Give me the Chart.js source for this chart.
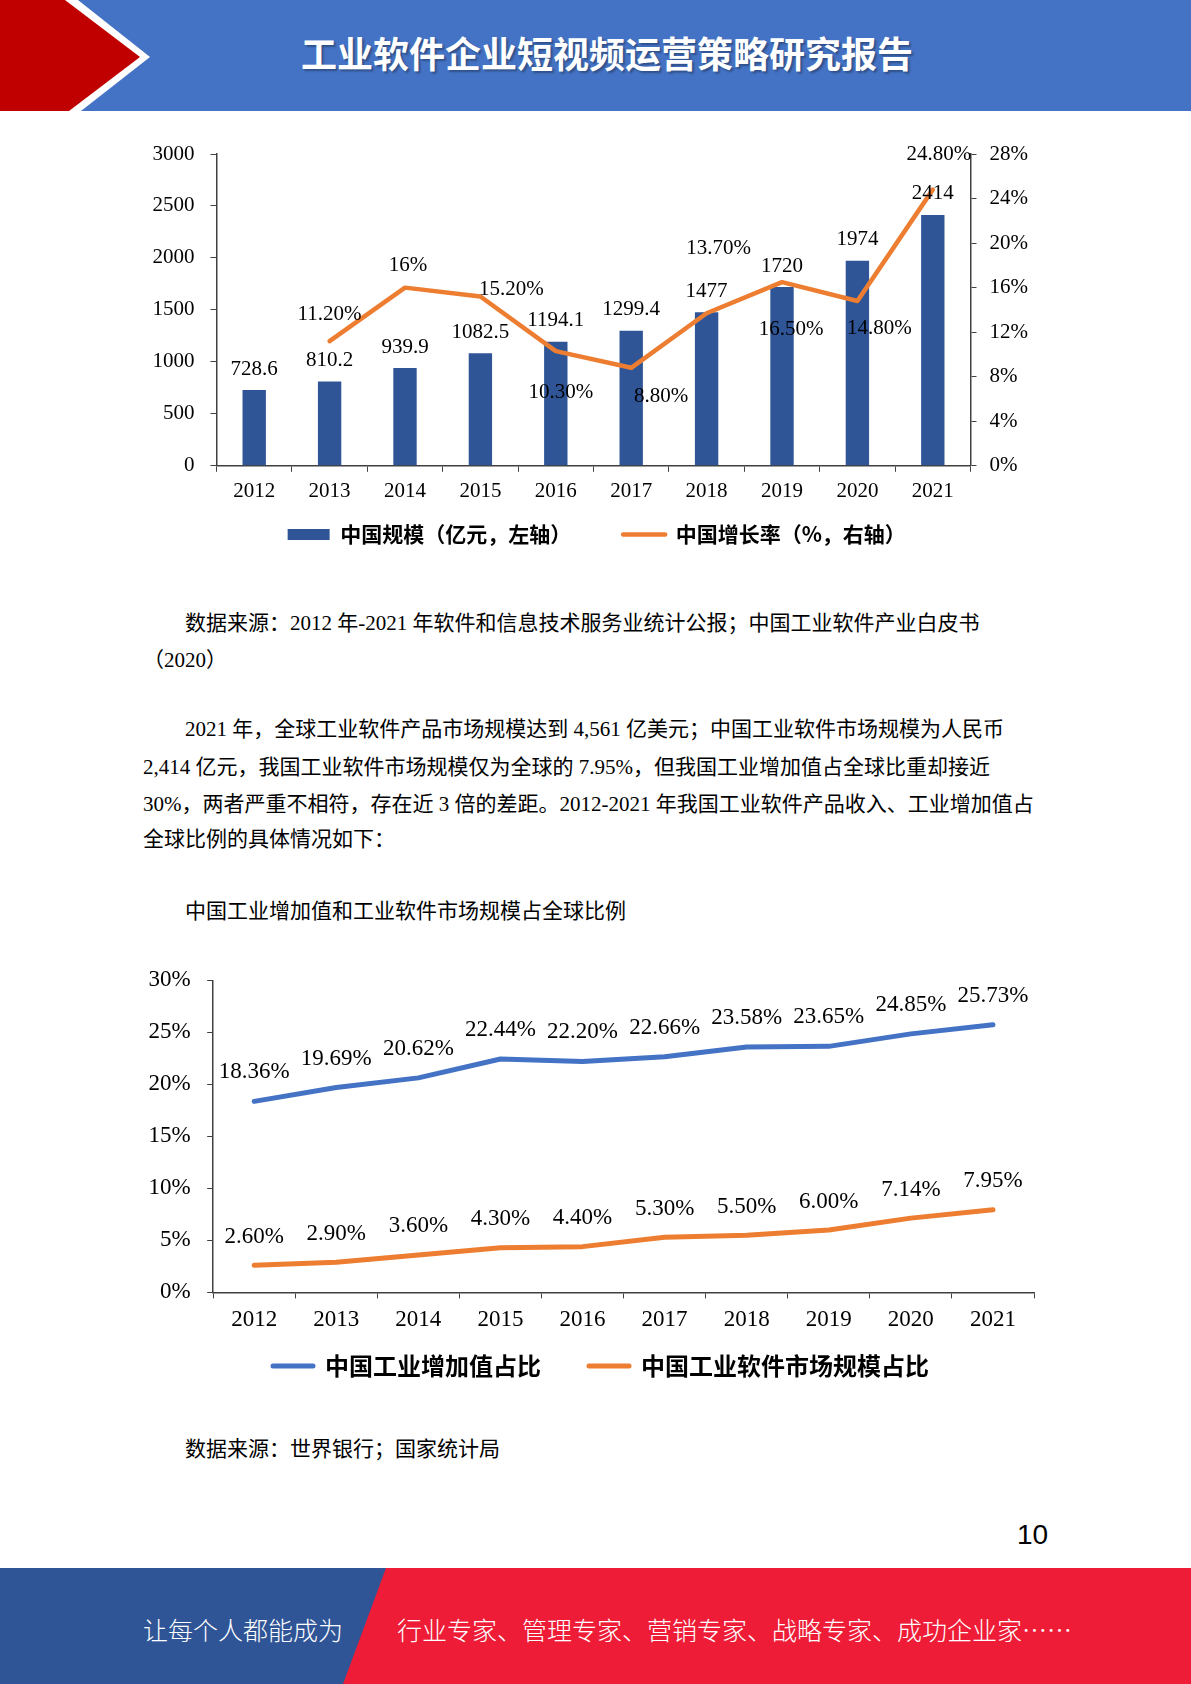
<!DOCTYPE html>
<html>
<head>
<meta charset="utf-8">
<script src="https://cdn.jsdelivr.net/npm/chart.js@4/dist/chart.umd.min.js"></script>
<style>
  html, body { margin: 0; padding: 0; background: #fff; }
  #page { position: relative; width: 1191px; height: 1684px; overflow: hidden; background: #fff; }
  .abs { position: absolute; }
  .title { left: 301px; top: 32px; font: bold 36px "Noto Sans CJK SC", sans-serif; line-height: 40px; color: #fff;
           white-space: nowrap; text-shadow: 2px 2px 2px rgba(0,0,0,0.3); }
  .txt { font-family: "Liberation Serif", "Noto Sans CJK SC", serif; font-size: 21px; line-height: 30px; color: #000; white-space: nowrap; }
  .foot { font-family: "Noto Sans CJK SC", sans-serif; font-weight: 300; font-size: 25px; line-height: 30px; color: #fff; white-space: nowrap; }
  .pageno { left: 1017px; top: 1518px; font: 28px "Liberation Sans", sans-serif; line-height: 34px; color: #000; }
</style>
</head>
<body>
<div id="page">
  <svg class="abs" style="left:0;top:0" width="1191" height="112">
    <rect x="0" y="0" width="1191" height="111" fill="#4472C4"/>
    <polygon points="0,0 78,0 150,57 81,111 0,111" fill="#ffffff"/>
    <polygon points="0,0 65,0 140,57 69,111 0,111" fill="#C00000"/>
  </svg>
  <div class="abs title">工业软件企业短视频运营策略研究报告</div>

  <div class="abs" style="left:120px;top:125px;width:950px;height:478px;"><canvas id="chart1"></canvas></div>

  <div class="abs txt" style="left:185px;top:608px;">数据来源：2012 年-2021 年软件和信息技术服务业统计公报；中国工业软件产业白皮书</div>
  <div class="abs txt" style="left:143px;top:645px;">（2020）</div>
  <div class="abs txt" style="left:185px;top:714px;">2021 年，全球工业软件产品市场规模达到 4,561 亿美元；中国工业软件市场规模为人民币</div>
  <div class="abs txt" style="left:143px;top:752px;">2,414 亿元，我国工业软件市场规模仅为全球的 7.95%，但我国工业增加值占全球比重却接近</div>
  <div class="abs txt" style="left:143px;top:789px;">30%，两者严重不相符，存在近 3 倍的差距。2012-2021 年我国工业软件产品收入、工业增加值占</div>
  <div class="abs txt" style="left:143px;top:824px;">全球比例的具体情况如下：</div>
  <div class="abs txt" style="left:185px;top:896px;">中国工业增加值和工业软件市场规模占全球比例</div>

  <div class="abs" style="left:120px;top:950px;width:940px;height:480px;"><canvas id="chart2"></canvas></div>

  <div class="abs txt" style="left:185px;top:1434px;">数据来源：世界银行；国家统计局</div>
  <div class="abs pageno">10</div>

  <svg class="abs" style="left:0;top:1568px" width="1191" height="116">
    <rect x="0" y="0" width="1191" height="116" fill="#EE1C37"/>
    <polygon points="0,0 386,0 343,116 0,116" fill="#2F5597"/>
  </svg>
  <div class="abs foot" style="left:143px;top:1614px;">让每个人都能成为</div>
  <div class="abs foot" style="left:397px;top:1614px;">行业专家、管理专家、营销专家、战略专家、成功企业家……</div>
</div>

<script>
// chart 1: market size (bars) and growth rate (line)
const years = ['2012', '2013', '2014', '2015', '2016', '2017', '2018', '2019', '2020', '2021'];
const marketSize = [728.6, 810.2, 939.9, 1082.5, 1194.1, 1299.4, 1477, 1720, 1974, 2414];
const growthRate = [null, 11.2, 16, 15.2, 10.3, 8.8, 13.7, 16.5, 14.8, 24.8];
const sizeTicks = [0, 500, 1000, 1500, 2000, 2500, 3000];
const rateTicks = [0, 4, 8, 12, 16, 20, 24, 28];

// chart 2: share of world
const valueAddedShare = [18.36, 19.69, 20.62, 22.44, 22.20, 22.66, 23.58, 23.65, 24.85, 25.73];
const softwareShare = [2.60, 2.90, 3.60, 4.30, 4.40, 5.30, 5.50, 6.00, 7.14, 7.95];
const shareTicks = [0, 5, 10, 15, 20, 25, 30];

// label placement for the growth line (dx, dy from the point)
const rateLabelOffsets = [null, [0, -27], [3, -22], [31, -7], [5, 41], [30, 29], [12, -65], [9, 47], [22, 27], [6, -35]];

const serif = "'Liberation Serif', 'Times New Roman', serif";
const cjkBold = "'Noto Sans CJK SC', sans-serif";
const axisColor = '#404040';

const valueLabels = {
    id: 'valueLabels',
    afterDatasetsDraw(chart, args, opts) {
        const ctx = chart.ctx;
        opts.sets.forEach((set, i) => {
            const ds = chart.data.datasets[i];
            const meta = chart.getDatasetMeta(i);
            ctx.save();
            ctx.font = opts.size + 'px ' + serif;
            ctx.fillStyle = '#000';
            ctx.textAlign = 'center';
            ctx.textBaseline = 'middle';
            meta.data.forEach((el, j) => {
                const v = ds.data[j];
                if (v === null || v === undefined) return;
                const off = set.offsets ? set.offsets[j] : set.offset;
                ctx.fillText(set.format(v), el.x + off[0], el.y + off[1]);
            });
            ctx.restore();
        });
    }
};

// legend padding doubles as the gap between items, so move the legend afterwards
const legendShift = {
    id: 'legendShift',
    afterLayout(chart, args, opts) {
        const lg = chart.legend;
        if (!lg) return;
        const dx = opts.dx || 0, dy = opts.dy || 0;
        lg.top += dy;
        lg.bottom += dy;
        lg.left += dx;
        lg.right += dx;
    }
};

function legendItems(chart) {
    return chart.data.datasets.map((ds, i) => ({
        text: ds.label,
        fillStyle: ds.type === 'line' ? ds.borderColor : ds.backgroundColor,
        strokeStyle: ds.borderColor,
        lineWidth: ds.type === 'line' ? ds.borderWidth : 0,
        lineCap: 'round',
        pointStyle: ds.type === 'line' ? 'line' : 'rect',
        hidden: false,
        datasetIndex: i
    }));
}

function fixedTicks(values) {
    return function (scale) {
        scale.ticks = values.map(v => ({ value: v }));
    };
}

function pct(v) {
    return Number.isInteger(v) ? v + '%' : v.toFixed(2) + '%';
}

new Chart(document.getElementById('chart1'), {
    data: {
        labels: years,
        datasets: [
            {
                type: 'bar',
                label: '中国规模（亿元，左轴）',
                data: marketSize,
                backgroundColor: '#2F5597',
                borderWidth: 0,
                barPercentage: 0.31,
                categoryPercentage: 1,
                yAxisID: 'y',
                order: 1
            },
            {
                type: 'line',
                label: '中国增长率（%，右轴）',
                data: growthRate,
                borderColor: '#ED7D31',
                backgroundColor: '#ED7D31',
                borderWidth: 4.5,
                borderJoinStyle: 'round',
                borderCapStyle: 'round',
                pointRadius: 0,
                tension: 0,
                yAxisID: 'y1',
                order: 0
            }
        ]
    },
    options: {
        responsive: true,
        maintainAspectRatio: false,
        devicePixelRatio: 1,
        animation: false,
        layout: { padding: { left: 16.5, right: 29, top: 29, bottom: 9 } },
        scales: {
            x: {
                offset: true,
                grid: { offset: true, drawOnChartArea: false, tickLength: 6, color: axisColor },
                border: { color: axisColor, width: 1.5 },
                ticks: { color: '#000', padding: 7, font: { family: serif, size: 21 } }
            },
            y: {
                position: 'left',
                min: 0, max: 3000,
                afterBuildTicks: fixedTicks(sizeTicks),
                grid: { drawOnChartArea: false, tickLength: 6, color: axisColor },
                border: { color: axisColor, width: 1.5 },
                ticks: { color: '#000', padding: 16, font: { family: serif, size: 21 }, callback: v => String(v) }
            },
            y1: {
                position: 'right',
                min: 0, max: 28,
                afterBuildTicks: fixedTicks(rateTicks),
                grid: { drawOnChartArea: false, tickLength: 6, color: axisColor },
                border: { color: axisColor, width: 1.5 },
                ticks: { color: '#000', padding: 13, font: { family: serif, size: 21 }, callback: v => v + '%' }
            }
        },
        plugins: {
            tooltip: { enabled: false },
            legend: {
                position: 'bottom',
                labels: {
                    usePointStyle: true,
                    pointStyleWidth: 42,
                    boxHeight: 11,
                    padding: 52,
                    color: '#000',
                    font: { family: cjkBold, size: 21, weight: 'bold' },
                    generateLabels: legendItems
                }
            },
            legendShift: { dx: 8, dy: -39 },
            valueLabels: {
                size: 21,
                sets: [
                    { offset: [0, -21], format: v => String(v) },
                    { offsets: rateLabelOffsets, format: pct }
                ]
            }
        }
    },
    plugins: [valueLabels, legendShift]
});

new Chart(document.getElementById('chart2'), {
    type: 'line',
    data: {
        labels: years,
        datasets: [
            {
                type: 'line',
                label: '中国工业增加值占比',
                data: valueAddedShare,
                borderColor: '#4472C4',
                backgroundColor: '#4472C4',
                borderWidth: 5,
                borderJoinStyle: 'round',
                borderCapStyle: 'round',
                pointRadius: 0,
                tension: 0
            },
            {
                type: 'line',
                label: '中国工业软件市场规模占比',
                data: softwareShare,
                borderColor: '#ED7D31',
                backgroundColor: '#ED7D31',
                borderWidth: 5,
                borderJoinStyle: 'round',
                borderCapStyle: 'round',
                pointRadius: 0,
                tension: 0
            }
        ]
    },
    options: {
        responsive: true,
        maintainAspectRatio: false,
        devicePixelRatio: 1,
        animation: false,
        layout: { padding: { left: 12, right: 26, top: 28, bottom: 6 } },
        scales: {
            x: {
                offset: true,
                grid: { offset: true, drawOnChartArea: false, tickLength: 6, color: axisColor },
                border: { color: axisColor, width: 1.5 },
                ticks: { color: '#000', padding: 8, font: { family: serif, size: 23 } }
            },
            y: {
                min: 0, max: 30,
                afterBuildTicks: fixedTicks(shareTicks),
                grid: { drawOnChartArea: false, tickLength: 6, color: axisColor },
                border: { color: axisColor, width: 1.5 },
                ticks: { color: '#000', padding: 16.5, font: { family: serif, size: 23 }, callback: v => v + '%' }
            }
        },
        plugins: {
            tooltip: { enabled: false },
            legend: {
                position: 'bottom',
                labels: {
                    usePointStyle: true,
                    pointStyleWidth: 40,
                    boxHeight: 12,
                    padding: 48,
                    color: '#000',
                    font: { family: cjkBold, size: 24, weight: 'bold' },
                    generateLabels: legendItems
                }
            },
            legendShift: { dx: 18, dy: -36 },
            valueLabels: {
                size: 23,
                sets: [
                    { offset: [0, -29], format: v => v.toFixed(2) + '%' },
                    { offset: [0, -28.5], format: v => v.toFixed(2) + '%' }
                ]
            }
        }
    },
    plugins: [valueLabels, legendShift]
});
</script>
</body>
</html>
